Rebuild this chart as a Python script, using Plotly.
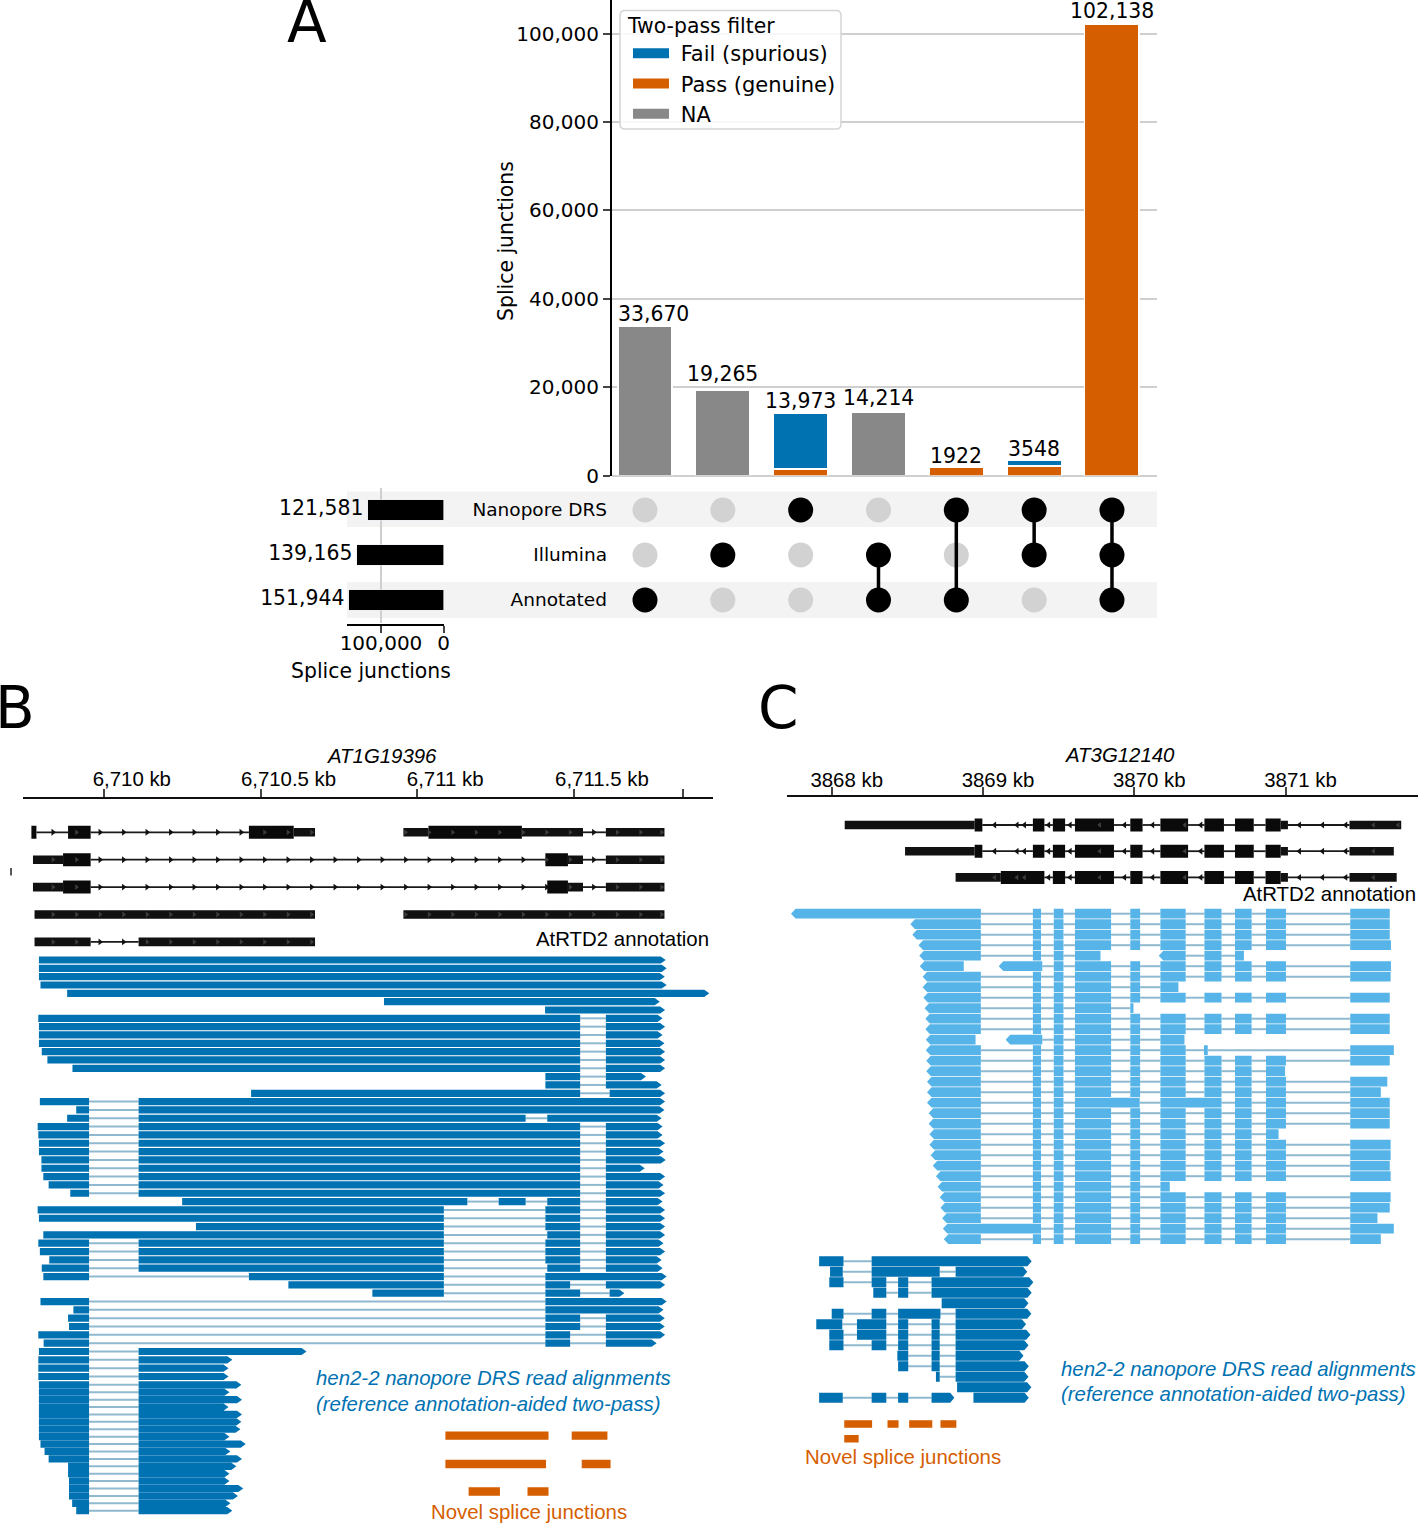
import plotly.graph_objects as go

W, H = 1418, 1523
BLUE, SKY, ORANGE, GREY = "#0072B2", "#56B4E9", "#D55E00", "#888888"
INTRON = "#8fb9cf"
DJ = "DejaVu Sans"
LB = "Liberation Sans"

# ---------- Panel A data ----------
COMBOS = ["Annotated only", "Illumina only", "Nanopore only", "Illumina+Annotated",
          "Nanopore+Annotated", "Nanopore+Illumina", "All three"]
FAIL = [None, None, 12473, None, None, 1348, None]
PASS = [None, None, 1500, None, 1922, 2200, 102138]
NA = [33670, 19265, None, 14214, None, None, None]
TOTALS = [33670, 19265, 13973, 14214, 1922, 3548, 102138]
TOTAL_LABELS = ["33,670", "19,265", "13,973", "14,214", "1922", "3548", "102,138"]
LABEL_XSHIFT = [8, 0, 0, 0, 0, 0, 0]
LABEL_YSHIFT = [1, 4, 1, 3, -1, -1, 1]
SETS = ["Nanopore DRS", "Illumina", "Annotated"]
SET_SIZES = [121581, 139165, 151944]
SET_LABELS = ["121,581\u2009", "139,165\u2009", "151,944\u2009"]
MEMBERS = [["Annotated"], ["Illumina"], ["Nanopore DRS"], ["Illumina", "Annotated"],
           ["Nanopore DRS", "Annotated"], ["Nanopore DRS", "Illumina"],
           ["Nanopore DRS", "Illumina", "Annotated"]]

# ---------- Panel B data (bp from chromosome position 6,710,000) ----------
B_BASE = 6710000
B_TICKS = [0, 500, 1000, 1500, 1847]
B_TICKTEXT = ["6,710 kb", "6,710.5 kb", "6,711 kb", "6,711.5 kb", ""]
B_CDS = [[[-231, -215], [-114, -42], [463, 606], [1036, 1334]],
         [[-130, -42], [1409, 1481]],
         [[-130, -42], [1415, 1481]],
         [],
         []]
B_UTR = [[[606, 674], [956, 1036], [1334, 1529], [1602, 1789]],
         [[-226, -130], [1481, 1529], [1602, 1789]],
         [[-226, -130], [1481, 1529], [1602, 1789]],
         [[-221, 674], [956, 1789]],
         [[-221, -42], [111, 674]]]
B_INTRONS = [[[-215, -114], [-42, 463], [1529, 1602]],
             [[-42, 1409], [1529, 1602]],
             [[-42, 1415], [1529, 1602]],
             [],
             [[-42, 111]]]
B_CHEVRONS = [-162, -87, -12, 63, 138, 213, 288, 363, 438, 513, 588, 663, 738, 813, 888, 963,
              1038, 1113, 1188, 1263, 1338, 1413, 1488, 1563, 1638, 1713, 1780]
B_READS = [
    [[-207, 1793]], [[-207, 1796]], [[-207, 1790]], [[-202, 1796]], [[-117, 1932]],
    [[894, 1774]], [[1408, 1791]],
    [[-209, 1520], [1602, 1783]], [[-207, 1520], [1602, 1791]], [[-207, 1520], [1602, 1783]],
    [[-207, 1520], [1602, 1789]], [[-198, 1520], [1602, 1791]], [[-180, 1520], [1602, 1791]],
    [[-100, 1520], [1602, 1791]], [[1409, 1520], [1602, 1730]], [[1409, 1520], [1602, 1780]],
    [[470, 1520], [1614, 1791]],
    [[-204, -47], [111, 1791]], [[-88, -47], [111, 1789]],
    [[-117, -47], [111, 1346], [1415, 1780]],
    [[-211, -47], [111, 1520], [1602, 1783]], [[-209, -47], [111, 1520], [1602, 1783]],
    [[-207, -47], [111, 1520], [1602, 1791]], [[-207, -47], [111, 1520], [1602, 1786]],
    [[-199, -47], [111, 1520], [1602, 1793]], [[-199, -47], [111, 1520], [1602, 1726]],
    [[-193, -47], [111, 1520], [1602, 1791]], [[-176, -47], [111, 1520], [1602, 1786]],
    [[-107, -47], [111, 1520], [1602, 1791]],
    [[250, 1160], [1260, 1346], [1415, 1520], [1602, 1783]],
    [[-211, 1085], [1409, 1520], [1602, 1791]], [[-207, 1085], [1409, 1520], [1602, 1791]],
    [[294, 1085], [1409, 1520], [1602, 1791]], [[-193, 1085], [1415, 1520], [1602, 1791]],
    [[-209, -47], [111, 1085], [1409, 1520], [1602, 1786]],
    [[-204, -47], [111, 1085], [1409, 1520], [1602, 1791]],
    [[-174, -47], [111, 1085], [1409, 1520], [1602, 1780]],
    [[-198, -47], [111, 1085], [1415, 1520], [1602, 1783]],
    [[-193, -47], [463, 1085], [1409, 1796]],
    [[589, 1085], [1409, 1488], [1602, 1791]],
    [[857, 1085], [1409, 1520], [1614, 1661]],
    [[-202, -47], [1409, 1796]], [[-97, -47], [1409, 1786]],
    [[-114, -47], [1409, 1520], [1602, 1790]], [[-111, -47], [1409, 1520], [1602, 1790]],
    [[-209, -47], [1409, 1488], [1602, 1791]], [[-192, -47], [1409, 1488], [1602, 1764]],
    [[-207, -47], [111, 647]], [[-209, -47], [111, 410]], [[-209, -47], [111, 398]],
    [[-209, -47], [111, 398]], [[-207, -47], [111, 439]], [[-207, -47], [111, 401]],
    [[-207, -47], [111, 441]], [[-207, -47], [111, 398]], [[-207, -47], [111, 441]],
    [[-207, -47], [111, 439]], [[-207, -47], [111, 436]], [[-207, -47], [111, 401]],
    [[-202, -47], [111, 453]], [[-189, -47], [111, 404]], [[-176, -47], [111, 441]],
    [[-114, -47], [111, 423]], [[-114, -47], [111, 401]], [[-111, -47], [111, 401]],
    [[-111, -47], [111, 445]], [[-111, -47], [111, 428]], [[-101, -47], [111, 404]],
    [[-88, -47], [111, 410]],
]
B_NOVEL_ROWS = [57.1, 57.1, 60.5, 60.5, 63.8, 63.8]
B_NOVEL = [[1090, 1419], [1493, 1607], [1090, 1411], [1525, 1617], [1164, 1264], [1352, 1419]]

# ---------- Panel C data (bp from chromosome position 3,868,000) ----------
C_BASE = 3868000
C_TICKS = [0, 1000, 2000, 3000]
C_TICKTEXT = ["3868 kb", "3869 kb", "3870 kb", "3871 kb"]
C_SHARED_CDS = [[1462, 1543], [1608, 1866], [1974, 2055], [2173, 2356], [2464, 2593],
                [2666, 2790], [2868, 2968]]
C_CDS = [[[945, 996], [1330, 1406]] + C_SHARED_CDS,
         [[945, 996], [1330, 1406]] + C_SHARED_CDS,
         [[1118, 1406]] + C_SHARED_CDS]
C_UTR = [[[86, 945], [2968, 3016], [3423, 3765]],
         [[485, 945], [2968, 3016], [3423, 3716]],
         [[819, 1118], [2968, 3016], [3423, 3735]]]
C_SHARED_INTRONS = [[1406, 1462], [1543, 1608], [1866, 1974], [2055, 2173], [2356, 2464],
                    [2593, 2666], [2790, 2868], [3016, 3423]]
C_INTRONS = [[[996, 1330]] + C_SHARED_INTRONS, [[996, 1330]] + C_SHARED_INTRONS, C_SHARED_INTRONS]
C_CHEVRONS = [1077, 1225, 1274, 1434, 1576, 1772, 1936, 2122, 2335, 2440, 3092, 3245, 3398, 3582, 3745]

E2, E3, E4, E5, E6 = [1330, 1384], [1468, 1532], [1608, 1847], [1974, 2039], [2173, 2340]
E7, E8, E9 = [2464, 2577], [2666, 2776], [2871, 3003]
MID = [E2, E3, E4, E5, E6, E7, E8, E9]
C_READ_ROWS = list(range(0, 5)) + [4, 5, 5] + list(range(6, 12)) + [12, 12] + list(range(13, 32))
C_READS = [
    [[-269, 986]] + MID + [[3428, 3689]],
    [[520, 986]] + MID + [[3428, 3689]],
    [[533, 986]] + MID + [[3428, 3689]],
    [[574, 986]] + MID + [[3428, 3697]],
    [[579, 986], E2, E3, [1608, 1777]],
    [[2162, 2340], E7, [2666, 2725]],
    [[582, 873]],
    [[1104, 1392], E3, E4, E5, E6, E7, E8, E9, [3428, 3697]],
    [[601, 986]] + MID + [[3428, 3695]],
    [[601, 986], E2, E3, E4, E5, [2173, 2292]],
    [[606, 986]] + MID + [[3428, 3689]],
    [[614, 986], E2, E3, E4, [1974, 1995]],
    [[619, 986]] + MID + [[3428, 3689]],
    [[619, 986]] + MID + [[3428, 3689]],
    [[622, 951]],
    [[1150, 1392], E3, E4, E5, [2173, 2332]],
    [[622, 986], E2, E3, E4, E5, E6, [2461, 2486], [3428, 3716]],
    [[625, 986]] + MID + [[3428, 3689]],
    [[625, 986], E2, E3, E4, E5, E6, E7, E8, [2871, 2997]],
    [[630, 986]] + MID + [[3428, 3673]],
    [[630, 986]] + MID + [[3428, 3630]],
    [[630, 986], E2, E3, [1608, 2036], [2173, 2577], E8, E9, [3428, 3689]],
    [[641, 986]] + MID + [[3428, 3689]],
    [[641, 986]] + MID + [[3428, 3689]],
    [[646, 986], E2, E3, E4, E5, E6, E7, E8, [2871, 2954]],
    [[646, 986]] + MID + [[3428, 3695]],
    [[654, 986]] + MID + [[3428, 3695]],
    [[668, 986]] + MID + [[3428, 3689]],
    [[689, 986]] + MID + [[3428, 3695]],
    [[700, 986], E2, E3, E4, E5, [2173, 2235]],
    [[714, 986]] + MID + [[3428, 3695]],
    [[719, 986]] + MID + [[3428, 3689]],
    [[730, 986]] + MID + [[3428, 3608]],
    [[735, 1384], E3, E4, E5, E6, E7, E8, E9, [3428, 3716]],
    [[741, 986]] + MID + [[3428, 3630]],
]
C_DARK_ROWS = [33.1, 34.1, 35.1, 36.1, 37.1, 38.1, 39.1, 40.1, 41.1, 42.1, 43.1, 44.1, 45.1, 46.1, 46.1]
C_DARK = [
    [[-83, 78], [264, 1322]],
    [[-11, 73], [264, 714], [819, 1293]],
    [[-16, 78], [264, 361], [439, 506], [660, 1333]],
    [[275, 361], [439, 506], [660, 1322]],
    [[727, 1301]],
    [[0, 78], [264, 361], [439, 719], [819, 1320]],
    [[-102, 70], [167, 361], [439, 506], [660, 714], [819, 1285]],
    [[-16, 78], [167, 361], [439, 506], [660, 714], [819, 1314]],
    [[-16, 78], [264, 361], [439, 506], [660, 714], [819, 1301]],
    [[434, 506], [660, 714], [819, 1268]],
    [[439, 506], [660, 714], [819, 1303]],
    [[689, 714], [819, 1301]],
    [[829, 1320]],
    [[-83, 73], [264, 361], [439, 506], [660, 811]],
    [[937, 1303]],
]
C_NOVEL_ROWS = [48.6, 48.6, 48.6, 48.6, 50.0]
C_NOVEL = [[83, 267], [369, 442], [512, 665], [719, 824], [83, 178]]


# ---------- helpers ----------
def xdom(p0, p1):
    return [p0 / W, p1 / W]


def ydom(p0, p1):
    return [1 - p1 / H, 1 - p0 / H]


def rects(segs, rows, half, base):
    xs, ys = [], []
    for (a, b), r in zip(segs, rows):
        xs += [base + a, base + b, base + b, base + a, base + a, None]
        ys += [r - half, r - half, r + half, r + half, r - half, None]
    return xs, ys


def read_shapes(reads, rows, half, tip, base, right):
    xs, ys, lx, ly = [], [], [], []
    for exons, r in zip(reads, rows):
        for k, (a, b) in enumerate(exons):
            a += base
            b += base
            if right and k == len(exons) - 1:
                xs += [a, b - tip, b, b - tip, a, a, None]
                ys += [r - half, r - half, r, r + half, r + half, r - half, None]
            elif not right and k == 0:
                xs += [a, a + tip, b, b, a + tip, a, None]
                ys += [r, r - half, r - half, r + half, r + half, r, None]
            else:
                xs += [a, b, b, a, a, None]
                ys += [r - half, r - half, r + half, r + half, r - half, None]
        for p, q in zip(exons[:-1], exons[1:]):
            lx += [base + p[1], base + q[0], None]
            ly += [r, r, None]
    return xs, ys, lx, ly


def poly(xs, ys, color, xa, ya):
    return go.Scatter(x=xs, y=ys, xaxis=xa, yaxis=ya, mode="lines", fill="toself",
                      fillcolor=color, line=dict(width=0, color=color),
                      showlegend=False, hoverinfo="skip")


def line(xs, ys, color, width, xa, ya):
    return go.Scatter(x=xs, y=ys, xaxis=xa, yaxis=ya, mode="lines",
                      line=dict(color=color, width=width), showlegend=False, hoverinfo="skip")


fig = go.Figure()

# ---------- Panel A: bars ----------
for name, vals, col in [("Pass (genuine)", PASS, ORANGE), ("Fail (spurious)", FAIL, BLUE), ("NA", NA, GREY)]:
    fig.add_trace(go.Bar(x=COMBOS, y=vals, width=0.70, marker=dict(color=col, line=dict(color="white", width=1.5)),
                         showlegend=False, hoverinfo="skip"))
for name, col in [("Fail (spurious)", BLUE), ("Pass (genuine)", ORANGE), ("NA", GREY)]:
    fig.add_trace(go.Scatter(x=[None], y=[None], mode="lines", name="\u00a0" + name, legendgroup=name,
                             line=dict(color=col, width=11)))

# ---------- Panel A: matrix ----------
gx, gy, kx, ky, lx, ly = [], [], [], [], [], []
for c, members in zip(COMBOS, MEMBERS):
    idx = [SETS.index(m) for m in members]
    for i, s in enumerate(SETS):
        if s in members:
            kx.append(c); ky.append(s)
        else:
            gx.append(c); gy.append(s)
    if len(idx) > 1:
        lx += [c, c, None]
        ly += [SETS[min(idx)], SETS[max(idx)], None]
fig.add_trace(go.Scatter(x=gx, y=gy, xaxis="x2", yaxis="y2", mode="markers",
                         marker=dict(size=25, color="#d2d2d2"), showlegend=False, hoverinfo="skip"))
fig.add_trace(line(lx, ly, "black", 3.5, "x2", "y2"))
fig.add_trace(go.Scatter(x=kx, y=ky, xaxis="x2", yaxis="y2", mode="markers",
                         marker=dict(size=25, color="black"), showlegend=False, hoverinfo="skip"))

# ---------- Panel A: set sizes ----------
fig.add_trace(go.Bar(x=SET_SIZES, y=SETS, orientation="h", xaxis="x3", yaxis="y3", width=0.46,
                     marker=dict(color="black"), showlegend=False, hoverinfo="skip"))
fig.add_trace(go.Scatter(x=SET_SIZES, y=SETS, xaxis="x3", yaxis="y3", mode="text", text=SET_LABELS,
                         textposition="middle left", cliponaxis=False,
                         textfont=dict(family=DJ, size=20.4, color="black"), showlegend=False, hoverinfo="skip"))


# ---------- gene tracks ----------
def gene_traces(cds, utr, introns, chevrons, base, dy, symbol, xa, ya):
    for t in range(len(cds)):
        ix, iy = [], []
        for a, b in introns[t]:
            ix += [base + a, base + b, None]
            iy += [t, t, None]
        if ix:
            fig.add_trace(line(ix, iy, "#1a1a1a", 1.8, xa, ya))
        cx = [base + c for c in chevrons if any(a < c < b for a, b in introns[t])]
        if cx:
            fig.add_trace(go.Scatter(x=cx, y=[t] * len(cx), xaxis=xa, yaxis=ya, mode="markers",
                                     marker=dict(symbol=symbol, size=6, color="#111111"),
                                     showlegend=False, hoverinfo="skip"))
        if utr[t]:
            fig.add_trace(poly(*rects(utr[t], [t] * len(utr[t]), 4.3 / dy, base), "#111111", xa, ya))
        if cds[t]:
            fig.add_trace(poly(*rects(cds[t], [t] * len(cds[t]), 6.5 / dy, base), "#0a0a0a", xa, ya))
        ex = [base + c for c in chevrons if any(a < c < b for a, b in utr[t] + cds[t])]
        if ex:
            fig.add_trace(go.Scatter(x=ex, y=[t] * len(ex), xaxis=xa, yaxis=ya, mode="markers",
                                     marker=dict(symbol=symbol, size=5, color="#3c3c3c"),
                                     showlegend=False, hoverinfo="skip"))


B_GENE_DY, B_ROW_DY = 27.4, 8.33
C_GENE_DY, C_ROW_DY = 26.2, 10.5
gene_traces(B_CDS, B_UTR, B_INTRONS, B_CHEVRONS, B_BASE, B_GENE_DY, "triangle-right", "x4", "y4")
gene_traces(C_CDS, C_UTR, C_INTRONS, C_CHEVRONS, C_BASE, C_GENE_DY, "triangle-left", "x5", "y6")

# ---------- reads ----------
b_rows = [i if i <= 51 else 51 + (i - 51) * 0.889 for i in range(len(B_READS))]
x_, y_, l_x, l_y = read_shapes(B_READS, b_rows, 3.6 / B_ROW_DY, 16, B_BASE, True)
fig.add_trace(line(l_x, l_y, INTRON, 2, "x4", "y5"))
fig.add_trace(poly(x_, y_, BLUE, "x4", "y5"))
fig.add_trace(poly(*rects(B_NOVEL, B_NOVEL_ROWS, 4.2 / B_ROW_DY, B_BASE), ORANGE, "x4", "y5"))

x_, y_, l_x, l_y = read_shapes(C_READS, C_READ_ROWS, 4.9 / C_ROW_DY, 30, C_BASE, False)
fig.add_trace(line(l_x, l_y, INTRON, 2, "x5", "y7"))
fig.add_trace(poly(x_, y_, SKY, "x5", "y7"))
x_, y_, l_x, l_y = read_shapes(C_DARK, C_DARK_ROWS, 4.9 / C_ROW_DY, 28, C_BASE, True)
fig.add_trace(line(l_x, l_y, INTRON, 2, "x5", "y7"))
fig.add_trace(poly(x_, y_, BLUE, "x5", "y7"))
fig.add_trace(poly(*rects(C_NOVEL, C_NOVEL_ROWS, 3.7 / C_ROW_DY, C_BASE), ORANGE, "x5", "y7"))


# ---------- annotations ----------
def ann(text, x, y, size=20.4, family=LB, color="black", xanchor="center", **kw):
    return dict(text=text, x=x / W, y=1 - y / H, xref="paper", yref="paper", showarrow=False,
                xanchor=xanchor, yanchor="middle", borderpad=0, borderwidth=0,
                font=dict(family=family, size=size, color=color), **kw)


annotations = [
    ann("A", 307, 22, 58, DJ), ann("B", 15, 708, 58, DJ), ann("C", 778, 708, 58, DJ),
    ann("Splice junctions", 371, 671, 20.4, DJ),
    ann("Splice junctions", 506, 241, 20.4, DJ, textangle=-90),
    ann("<i>AT1G19396</i>", 382, 756), ann("<i>AT3G12140</i>", 1120, 755),
    ann("AtRTD2 annotation", 709, 939, xanchor="right"),
    ann("AtRTD2 annotation", 1416, 894, xanchor="right"),
    ann("<i>hen2-2 nanopore DRS read alignments</i>", 316, 1378, color=BLUE, xanchor="left"),
    ann("<i>(reference annotation-aided two-pass)</i>", 316, 1404, color=BLUE, xanchor="left"),
    ann("<i>hen2-2 nanopore DRS read alignments</i>", 1061, 1369, color=BLUE, xanchor="left"),
    ann("<i>(reference annotation-aided two-pass)</i>", 1061, 1394, color=BLUE, xanchor="left"),
    ann("Novel splice junctions", 529, 1512, color=ORANGE),
    ann("Novel splice junctions", 903, 1457, color=ORANGE),
]
for c, t, lab, xs, ys in zip(COMBOS, TOTALS, TOTAL_LABELS, LABEL_XSHIFT, LABEL_YSHIFT):
    annotations.append(dict(text=lab, x=c, y=t, xref="x", yref="y", showarrow=False, yanchor="bottom",
                            xanchor="center", xshift=xs, yshift=ys, borderpad=0, borderwidth=0,
                            font=dict(family=DJ, size=20.4, color="black")))

# ---------- axis ranges from pixel placement ----------
MAIN_PX_PER_UNIT = 0.00442
SET_PX_PER_UNIT = 0.000625
CAT_PX = 77.83
B_PX_KB, C_PX_KB = 313.4, 151.27
B_X0, C_X0 = 103.8, 831.7
CAT_RANGE = [(612 - 645) / CAT_PX, (1157 - 645) / CAT_PX]


def blank(**kw):
    d = dict(visible=False, showgrid=False, zeroline=False, fixedrange=True)
    d.update(kw)
    return d


layout_axes = dict(
    xaxis=dict(domain=xdom(612, 1157), type="category", categoryorder="array", categoryarray=COMBOS,
               range=CAT_RANGE, showticklabels=False, ticks="",
               showline=False, showgrid=False, zeroline=False),
    yaxis=dict(domain=ydom(0, 475.5), range=[0, 475.5 / MAIN_PX_PER_UNIT],
               tickvals=[0, 20000, 40000, 60000, 80000, 100000],
               ticktext=["0", "20,000", "40,000", "60,000", "80,000", "100,000"],
               showline=True, linecolor="black", linewidth=2, ticks="outside", ticklen=7, tickwidth=1.5,
               tickfont=dict(family=DJ, size=20, color="black"), gridcolor="#cfcfcf", gridwidth=2,
               zeroline=True, zerolinecolor="#cfcfcf", zerolinewidth=2),
    xaxis2=dict(domain=xdom(612, 1157), anchor="y2", type="category", categoryorder="array",
                categoryarray=COMBOS, range=CAT_RANGE,
                showticklabels=False, ticks="", showline=False, showgrid=False, zeroline=False),
    yaxis2=dict(domain=ydom(487.5, 622.5), anchor="x2", type="category", categoryorder="array",
                categoryarray=SETS, range=[2.5, -0.5], showgrid=False, zeroline=False, showline=False,
                ticks="", ticklabelstandoff=4, tickfont=dict(family=DJ, size=18.5, color="black")),
    xaxis3=dict(domain=xdom(347, 443.5), anchor="free", position=1 - 624.5 / H,
                range=[(443.5 - 347) / SET_PX_PER_UNIT, 0], tickvals=[0, 100000], ticktext=["0", "100,000"],
                showline=True, linecolor="black", linewidth=2, ticks="outside", ticklen=7, tickwidth=1.5,
                ticklabelstandoff=-7,
                tickfont=dict(family=DJ, size=20, color="black"), gridcolor="#cfcfcf", gridwidth=2,
                zeroline=False),
    yaxis3=blank(domain=ydom(487.5, 622.5), anchor="x3", type="category", categoryorder="array",
                 categoryarray=SETS, range=[2.5, -0.5]),
    xaxis4=dict(domain=xdom(23, 713), anchor="free", position=1 - 797.5 / H, side="top",
                range=[B_BASE + (23 - B_X0) / B_PX_KB * 1000, B_BASE + (713 - B_X0) / B_PX_KB * 1000],
                tickvals=[B_BASE + t for t in B_TICKS], ticktext=B_TICKTEXT, showline=True, linecolor="#111111",
                linewidth=2, ticks="outside", ticklen=8, tickwidth=1.5, ticklabelshift=28, ticklabelstandoff=-6,
                tickfont=dict(family=LB, size=20.4, color="black"), showgrid=False, zeroline=False),
    yaxis4=blank(domain=ydom(815, 960), anchor="x4",
                 range=[(960 - 832.3) / B_GENE_DY, (815 - 832.3) / B_GENE_DY]),
    yaxis5=blank(domain=ydom(950, 1523), anchor="x4",
                 range=[(1523 - 960) / B_ROW_DY, (950 - 960) / B_ROW_DY]),
    xaxis5=dict(domain=xdom(787, 1418), anchor="free", position=1 - 795.7 / H, side="top",
                range=[C_BASE + (787 - C_X0) / C_PX_KB * 1000, C_BASE + (1418 - C_X0) / C_PX_KB * 1000],
                tickvals=[C_BASE + t for t in C_TICKS], ticktext=C_TICKTEXT, showline=True, linecolor="#111111",
                linewidth=2, ticks="outside", ticklen=8, tickwidth=1.5, ticklabelshift=15, ticklabelstandoff=-8,
                tickfont=dict(family=LB, size=20.4, color="black"), showgrid=False, zeroline=False),
    yaxis6=blank(domain=ydom(805, 900), anchor="x5",
                 range=[(900 - 825) / C_GENE_DY, (805 - 825) / C_GENE_DY]),
    yaxis7=blank(domain=ydom(905, 1523), anchor="x5",
                 range=[(1523 - 913.7) / C_ROW_DY, (905 - 913.7) / C_ROW_DY]),
)


def rounded_box(x0, x1, y0, y1, r):
    a, b = x0 / W, x1 / W
    t, u = 1 - y0 / H, 1 - y1 / H
    rx, ry = r / W, r / H
    return (f"M{a+rx},{t} L{b-rx},{t} Q{b},{t} {b},{t-ry} L{b},{u+ry} Q{b},{u} {b-rx},{u} "
            f"L{a+rx},{u} Q{a},{u} {a},{u+ry} L{a},{t-ry} Q{a},{t} {a+rx},{t} Z")


shapes = [
    dict(type="rect", xref="paper", yref="paper", x0=347 / W, x1=1157 / W, y0=1 - 527 / H, y1=1 - 491.5 / H,
         fillcolor="#f3f3f3", line=dict(width=0), layer="below"),
    dict(type="rect", xref="paper", yref="paper", x0=347 / W, x1=1157 / W, y0=1 - 618 / H, y1=1 - 582 / H,
         fillcolor="#f3f3f3", line=dict(width=0), layer="below"),
    dict(type="line", xref="paper", yref="paper", x0=11 / W, x1=11 / W, y0=1 - 875.5 / H, y1=1 - 868 / H,
         line=dict(color="#222222", width=1.5)),
    dict(type="path", xref="paper", yref="paper", path=rounded_box(620, 841, 10.5, 129, 5),
         fillcolor="rgba(255,255,255,0.85)", line=dict(color="#d5d5d5", width=1.5), layer="above"),
]

fig.update_layout(
    width=W, height=H, margin=dict(l=0, r=0, t=0, b=0, autoexpand=False), plot_bgcolor="white", paper_bgcolor="white",
    barmode="stack", annotations=annotations, shapes=shapes,
    legend=dict(x=626 / W, y=1 - 6.5 / H, xanchor="left", yanchor="top", bgcolor="rgba(0,0,0,0)",
                borderwidth=0, font=dict(family=DJ, size=21, color="black"),
                title=dict(text="Two-pass filter", font=dict(family=DJ, size=20.4, color="black")),
                itemwidth=36, indentation=2, tracegroupgap=3, traceorder="normal"),
    **layout_axes,
)

fig.write_html("out.html", config={"displayModeBar": False},
               post_script="document.body.style.margin='0';document.body.style.overflow='hidden';")
